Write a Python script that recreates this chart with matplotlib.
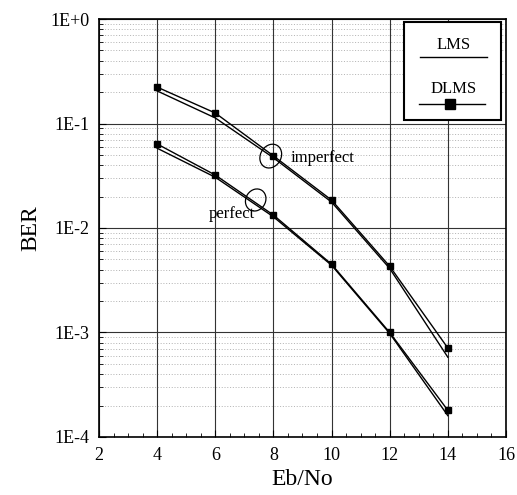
import matplotlib
matplotlib.use("Agg")
import matplotlib.pyplot as plt
from matplotlib.ticker import LogLocator, MultipleLocator
from matplotlib.patches import Ellipse, Rectangle
from matplotlib.lines import Line2D

plt.rcParams['font.family'] = ['Liberation Serif', 'DejaVu Serif']

# Eb/No (dB)
ebno = [4, 6, 8, 10, 12, 14]

# BER, imperfect channel estimate
lms_imperfect = [0.205, 0.113, 0.047, 0.0177, 0.0041, 0.00058]
dlms_imperfect = [0.223, 0.126, 0.049, 0.0185, 0.0043, 0.00071]

# BER, perfect channel estimate
lms_perfect = [0.058, 0.0306, 0.0128, 0.0044, 0.00098, 0.00016]
dlms_perfect = [0.0637, 0.0321, 0.0133, 0.0045, 0.0010, 0.00018]

ytick_vals = [1e-4, 1e-3, 1e-2, 1e-1, 1e0]
ytick_labels = ["1E-4", "1E-3", "1E-2", "1E-1", "1E+0"]
xtick_vals = [2, 4, 6, 8, 10, 12, 14, 16]

fig = plt.figure(figsize=(5.17, 4.95), dpi=100)
ax = fig.add_axes([0.1915, 0.1172, 0.7872, 0.8444])

ax.set_yscale('log')
ax.set_xlim(2, 16)
ax.set_ylim(1e-4, 1)

# grid
ax.yaxis.set_minor_locator(LogLocator(base=10, subs=range(2, 10)))
ax.xaxis.set_minor_locator(MultipleLocator(0.5))
ax.grid(True, which='major', color='#333333', linewidth=0.8, linestyle='-')
ax.grid(True, which='minor', axis='y', color='#999999', linewidth=0.5, linestyle=(0, (1.5, 2.5)))

for l1, l2 in [(lms_imperfect, dlms_imperfect), (lms_perfect, dlms_perfect)]:
    ax.plot(ebno, l1, color='black', linewidth=1.0, zorder=3)
    ax.plot(ebno, l2, color='black', linewidth=1.0, marker='s', markersize=5, zorder=3)

ax.set_xticks(xtick_vals)
ax.set_yticks(ytick_vals)
ax.set_yticklabels(ytick_labels)
ax.tick_params(which='both', direction='in', labelsize=13, pad=7)
ax.tick_params(which='major', length=5)
ax.tick_params(which='minor', length=3)
for s in ax.spines.values():
    s.set_linewidth(1.2)

ax.set_xlabel("Eb/No", fontsize=17, labelpad=4)
ax.set_ylabel("BER", fontsize=17, labelpad=6)

# annotation loops
ax.add_patch(Ellipse((0.422, 0.672), 0.05, 0.06, angle=-35, fill=False,
                     edgecolor='black', linewidth=0.9, transform=ax.transAxes, zorder=4))
ax.add_patch(Ellipse((0.385, 0.567), 0.048, 0.055, angle=-35, fill=False,
                     edgecolor='black', linewidth=0.9, transform=ax.transAxes, zorder=4))
ax.text(8.6, 0.047, "imperfect", fontsize=12, va='center', ha='left', zorder=5)
ax.text(7.36, 0.0135, "perfect", fontsize=12, va='center', ha='right', zorder=5)

# legend box
ax.add_patch(Rectangle((0.749, 0.758), 0.239, 0.235, transform=ax.transAxes,
                       facecolor='white', edgecolor='black', linewidth=1.5, zorder=6))
ax.text(0.872, 0.938, "LMS", transform=ax.transAxes, fontsize=12, ha='center', va='center', zorder=7)
ax.add_line(Line2D([0.789, 0.953], [0.909, 0.909], transform=ax.transAxes,
                   color='black', linewidth=1.0, zorder=7))
ax.text(0.872, 0.833, "DLMS", transform=ax.transAxes, fontsize=12, ha='center', va='center', zorder=7)
ax.add_line(Line2D([0.786, 0.862, 0.948], [0.797, 0.797, 0.797], transform=ax.transAxes,
                   color='black', linewidth=1.0, marker='s', markersize=7,
                   markevery=[1], zorder=7))

fig.savefig("out.png", dpi=100)
